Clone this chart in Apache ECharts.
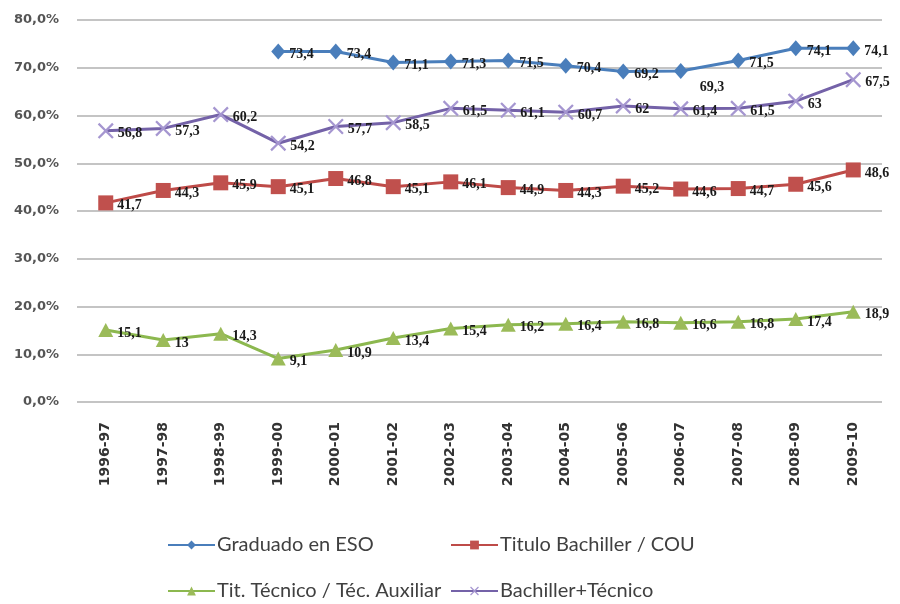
<!DOCTYPE html>
<html>
<head>
<meta charset="utf-8">
<script src="https://cdn.jsdelivr.net/npm/echarts@6/dist/echarts.min.js"></script>
<style>html,body{margin:0;padding:0;background:#fff;}#c{width:900px;height:604px;}</style>
</head>
<body>
<div id="c"></div>
<script>
var categories = ['1996-97','1997-98','1998-99','1999-00','2000-01','2001-02','2002-03','2003-04','2004-05','2005-06','2006-07','2007-08','2008-09','2009-10'];
var graduadoESO = [null, null, null, 73.4, 73.4, 71.1, 71.3, 71.5, 70.4, 69.2, 69.3, 71.5, 74.1, 74.1];
var tituloBachiller = [41.7, 44.3, 45.9, 45.1, 46.8, 45.1, 46.1, 44.9, 44.3, 45.2, 44.6, 44.7, 45.6, 48.6];
var titTecnico = [15.1, 13, 14.3, 9.1, 10.9, 13.4, 15.4, 16.2, 16.4, 16.8, 16.6, 16.8, 17.4, 18.9];
var bachillerTecnico = [56.8, 57.3, 60.2, 54.2, 57.7, 58.5, 61.5, 61.1, 60.7, 62, 61.4, 61.5, 63, 67.5];
var seriesNames = ['Graduado en ESO', 'Titulo Bachiller / COU', 'Tit. Técnico / Téc. Auxiliar', 'Bachiller+Técnico'];

function fmt(v){ return String(v).replace('.', ','); }
var labelStyle = {show:true, position:'right', distance:4, offset:[0,3], fontFamily:'Liberation Serif', fontWeight:'bold', fontSize:14, color:'#1a1a1a', formatter:function(p){return fmt(p.value);}};

var esoData = graduadoESO.map(function(v, i){
  if (categories[i] === '2006-07') return {value:v, label:{offset:[8,16]}};
  return v;
});
var crossPath = 'path://M0,1 L1,0 L5,4 L9,0 L10,1 L6,5 L10,9 L9,10 L5,6 L1,10 L0,9 L4,5 Z';

var chart = echarts.init(document.getElementById('c'));
var legendText = {fontFamily:'Lato', fontSize:20, color:'#404040', padding:[0,0,0,-3]};
function lg(name, left, top){ return {data:[name], left:left, top:top, itemWidth:47, itemHeight:11, textStyle:legendText, itemGap:0, padding:0, selectedMode:false}; }
chart.setOption({
  backgroundColor:'#fff',
  animation:false,
  grid:{left:77, right:18, top:20, bottom:202},
  legend:[
    lg(seriesNames[0], 167, 535),
    lg(seriesNames[1], 450, 535),
    lg(seriesNames[2], 167, 581),
    lg(seriesNames[3], 450, 581)
  ],
  xAxis:{
    type:'category', data:categories, boundaryGap:true,
    axisLine:{show:false}, axisTick:{show:false},
    axisLabel:{rotate:90, margin:20, fontFamily:'DejaVu Sans', fontWeight:'bold', fontSize:14, color:'#333'}
  },
  yAxis:{
    type:'value', min:0, max:80, interval:10,
    axisLine:{show:false}, axisTick:{show:false},
    splitLine:{lineStyle:{color:'#c4c4c4', width:2}},
    axisLabel:{margin:18, fontFamily:'DejaVu Sans', fontWeight:'bold', fontSize:13, color:'#555', formatter:function(v){return v.toFixed(1).replace('.', ',') + '%';}}
  },
  series:[
    {name:seriesNames[0], type:'line', data:esoData, symbol:'diamond', symbolSize:[14,16], lineStyle:{width:3, color:'#4a7ebb'}, itemStyle:{color:'#4a7ebb'}, label:labelStyle, z:4},
    {name:seriesNames[1], type:'line', data:tituloBachiller, symbol:'rect', symbolSize:15, lineStyle:{width:3, color:'#be4b48'}, itemStyle:{color:'#c0504d'}, label:labelStyle, z:3},
    {name:seriesNames[2], type:'line', data:titTecnico, symbol:'triangle', symbolSize:[15,14], lineStyle:{width:3, color:'#8cb84f'}, itemStyle:{color:'#9bbb59'}, label:labelStyle, z:3},
    {name:seriesNames[3], type:'line', data:bachillerTecnico, symbol:crossPath, symbolSize:16, lineStyle:{width:3, color:'#7462a8'}, itemStyle:{color:'#a596d0'}, label:labelStyle, z:3}
  ]
});
</script>
</body>
</html>
